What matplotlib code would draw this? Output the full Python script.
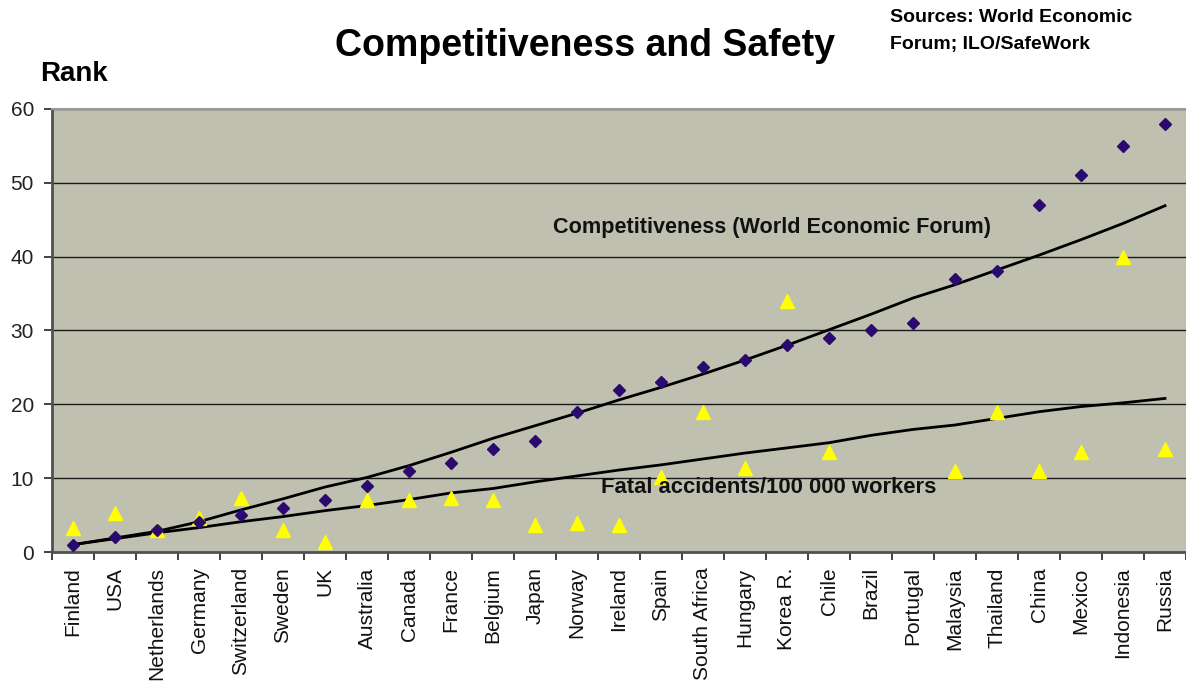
import numpy as np
import matplotlib
matplotlib.use("Agg")
import matplotlib.pyplot as plt

plt.rcParams['font.family'] = ['Liberation Sans', 'DejaVu Sans']

countries = ["Finland", "USA", "Netherlands", "Germany", "Switzerland", "Sweden", "UK",
             "Australia", "Canada", "France", "Belgium", "Japan", "Norway", "Ireland",
             "Spain", "South Africa", "Hungary", "Korea R.", "Chile", "Brazil", "Portugal",
             "Malaysia", "Thailand", "China", "Mexico", "Indonesia", "Russia"]

competitiveness_rank = [1, 2, 3, 4, 5, 6, 7, 9, 11, 12, 14, 15, 19, 22, 23, 25, 26, 28,
                        29, 30, 31, 37, 38, 47, 51, 55, 58]

fatal_rank = [3.3, 5.3, 3.0, 4.6, 7.3, 3.0, 1.4, 7.0, 7.0, 7.3, 7.0, 3.7, 3.9, 3.7,
              10.2, 19.0, 11.4, 34.0, 13.5, np.nan, np.nan, 11.0, 19.0, 11.0, 13.5, 40.0, 13.9]

competitiveness_trend = [1.0, 1.9, 2.8, 4.1, 5.7, 7.2, 8.8, 10.1, 11.7, 13.5, 15.4, 17.1,
                         18.8, 20.6, 22.3, 24.1, 26.0, 28.0, 30.1, 32.2, 34.4, 36.2, 38.2,
                         40.2, 42.3, 44.5, 46.9]

fatal_trend = [1.0, 1.8, 2.6, 3.3, 4.1, 4.8, 5.6, 6.3, 7.1, 8.0, 8.6, 9.5, 10.3, 11.1,
               11.8, 12.6, 13.4, 14.1, 14.8, 15.8, 16.6, 17.2, 18.1, 19.0, 19.7, 20.2, 20.8]

y_ticks = [0, 10, 20, 30, 40, 50, 60]

W, H = 1186, 690
fig = plt.figure(figsize=(W / 100, H / 100), dpi=100)
fig.patch.set_facecolor('white')
ax = fig.add_axes([52 / W, 138 / H, 1134 / W, 443 / H])
ax.set_facecolor('#C0C0B0')

x = np.arange(len(countries))

for yt in y_ticks[1:]:
    ax.axhline(yt, color='#1a1a1a', lw=1.0, zorder=1)

ax.plot(x, competitiveness_trend, color='black', lw=2.0, zorder=3)
ax.plot(x, fatal_trend, color='black', lw=2.0, zorder=3)

ax.plot(x, fatal_rank, linestyle='none', marker='^', markersize=9.5,
        color='#FFFF00', markeredgecolor='#FFFF00', zorder=4)
ax.plot(x, competitiveness_rank, linestyle='none', marker='D', markersize=6.5,
        color='#2A0A6E', markeredgecolor='#2A0A6E', zorder=5)

ax.set_xlim(-0.5, len(countries) - 0.5)
ax.set_ylim(0, 60)
ax.set_yticks(y_ticks)
ax.set_yticklabels([str(v) for v in y_ticks], fontsize=15)
ax.tick_params(axis='y', direction='out', length=6, width=1.2, pad=7, colors='#222222')

ax.set_xticks(x)
ax.set_xticklabels(countries, rotation=90, fontsize=15)
ax.tick_params(axis='x', which='major', length=0, pad=11, colors='#111111')
ax.set_xticks(np.arange(-0.5, len(countries), 1.0), minor=True)
ax.tick_params(axis='x', which='minor', direction='out', length=6, width=1.2, color='#222222')

for side in ['left', 'bottom']:
    ax.spines[side].set_color('#505050')
    ax.spines[side].set_linewidth(2.0)
ax.spines['top'].set_color('#999999')
ax.spines['top'].set_linewidth(1.5)
ax.spines['right'].set_visible(False)

ax.text(11.43, 43.9, "Competitiveness (World Economic Forum)", fontsize=15.6,
        fontweight='bold', ha='left', va='center', color='#111111', zorder=6)
ax.text(12.57, 8.8, "Fatal accidents/100 000 workers", fontsize=15.8,
        fontweight='bold', ha='left', va='center', color='#111111', zorder=6)

fig.text(585 / W, 1 - 46 / H, "Competitiveness and Safety", fontsize=27,
         fontweight='bold', ha='center', va='center', color='black')
fig.text(40 / W, 1 - 74 / H, "Rank", fontsize=20, fontweight='bold',
         ha='left', va='center', color='black')
fig.text(890 / W, 1 - 18 / H, "Sources: World Economic", fontsize=14,
         fontweight='bold', ha='left', va='center', color='black')
fig.text(890 / W, 1 - 44 / H, "Forum; ILO/SafeWork", fontsize=14,
         fontweight='bold', ha='left', va='center', color='black')

fig.savefig("out.png", dpi=100, facecolor='white')
